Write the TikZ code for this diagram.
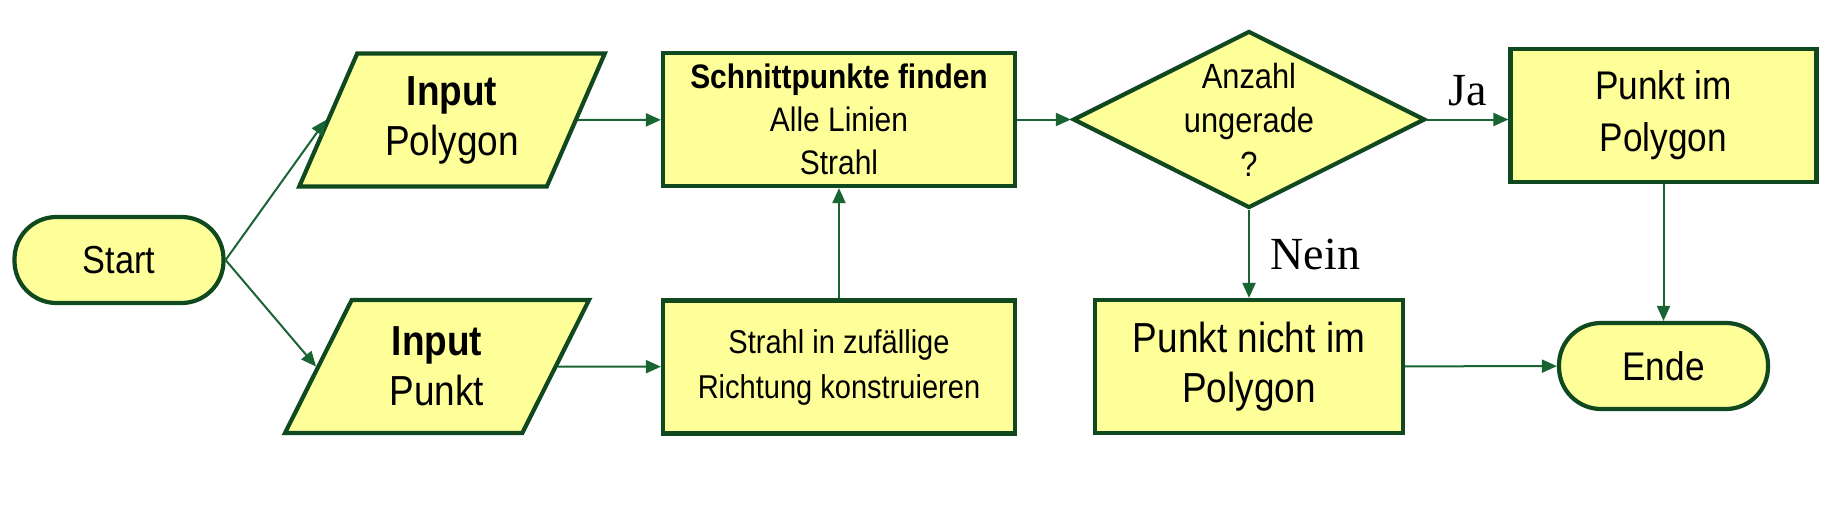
\documentclass[tikz,border=0pt]{standalone}
\usepackage{fontspec}
\setmainfont{Liberation Sans}[FakeStretch=0.88]
\newfontfamily\serifjn{Liberation Serif}
\usetikzlibrary{shapes.geometric, arrows.meta, positioning}
\definecolor{boxfill}{RGB}{255,255,153}
\definecolor{boxline}{RGB}{16,72,32}
\definecolor{arrline}{RGB}{24,100,50}
\tikzstyle{arrow} = [line width=1pt, draw=arrline, -{Triangle[length=7.5pt,width=6.5pt]}]

\begin{document}
\begin{tikzpicture}[
    x=0.5pt, y=-0.5pt,
    base/.style={
        draw=boxline,
        fill=boxfill,
        line width=2.1pt,
        align=center,
        inner sep=0pt
    },
    terminal/.style={
        base,
        rounded corners=21pt,
        minimum width=104.5pt,
        minimum height=43pt,
        font=\fontsize{19.5}{24}\selectfont
    },
    io/.style={
        base,
        trapezium,
        trapezium left angle=65,
        trapezium right angle=115,
        trapezium stretches=true,
        minimum width=153pt,
        minimum height=66.5pt,
        font=\fontsize{21}{25}\selectfont
    },
    box/.style={
        base,
        minimum width=176pt,
        minimum height=66.5pt
    },
    decision/.style={
        base,
        diamond,
        minimum width=176pt,
        minimum height=88.5pt
    },
    answer/.style={font=\fontsize{23}{26}\serifjn}
  ]
    \useasboundingbox (0,0) rectangle (1835,509);

    \node[terminal] (start) at (119,260) {Start};
    \node[io] (inpoly) at (452,120) {\textbf{Input}\\Polygon};
    \node[io] (inpunkt) at (437,366.5) {\textbf{Input}\\Punkt};
    \node[box, font=\fontsize{17}{21.5}\selectfont] (schnitt) at (839,119.5)
        {\textbf{Schnittpunkte finden}\\Alle Linien\\Strahl};
    \node[box, font=\fontsize{16.5}{22.5}\selectfont] (strahl) at (839,367)
        {Strahl in zufällige\\Richtung konstruieren};
    \node[decision, label={[align=center, font=\fontsize{17.5}{22}\selectfont]center:{Anzahl\\ungerade\\?}}]
        (anzahl) at (1249,119.5) {};
    \node[box, minimum width=154pt, font=\fontsize{21}{25}\selectfont] (nichtim) at (1249,366.5)
        {Punkt nicht im\\Polygon};
    \node[box, minimum width=153pt, font=\fontsize{20}{26}\selectfont] (imPoly) at (1663.5,115.5)
        {Punkt im\\Polygon};
    \node[terminal, font=\fontsize{20}{24}\selectfont] (ende) at (1663.5,366) {Ende};

    \draw[arrow] (start.east) -- (inpoly.left side);
    \draw[arrow] (start.east) -- (inpunkt.left side);
    \draw[arrow] (inpoly.right side) -- (schnitt);
    \draw[arrow] (inpunkt.right side) -- (strahl);
    \draw[arrow] (strahl) -- (schnitt);
    \draw[arrow] (schnitt) -- (anzahl);
    \draw[arrow] (anzahl.east) -- (anzahl.east -| imPoly.west)
        node[midway, above=3pt, answer] {Ja};
    \draw[arrow] (anzahl.south) -- (nichtim.north)
        node[midway, right=7pt, answer] {Nein};
    \draw[arrow] (imPoly) -- (ende);
    \draw[arrow] (nichtim) -- (ende);
\end{tikzpicture}
\end{document}
